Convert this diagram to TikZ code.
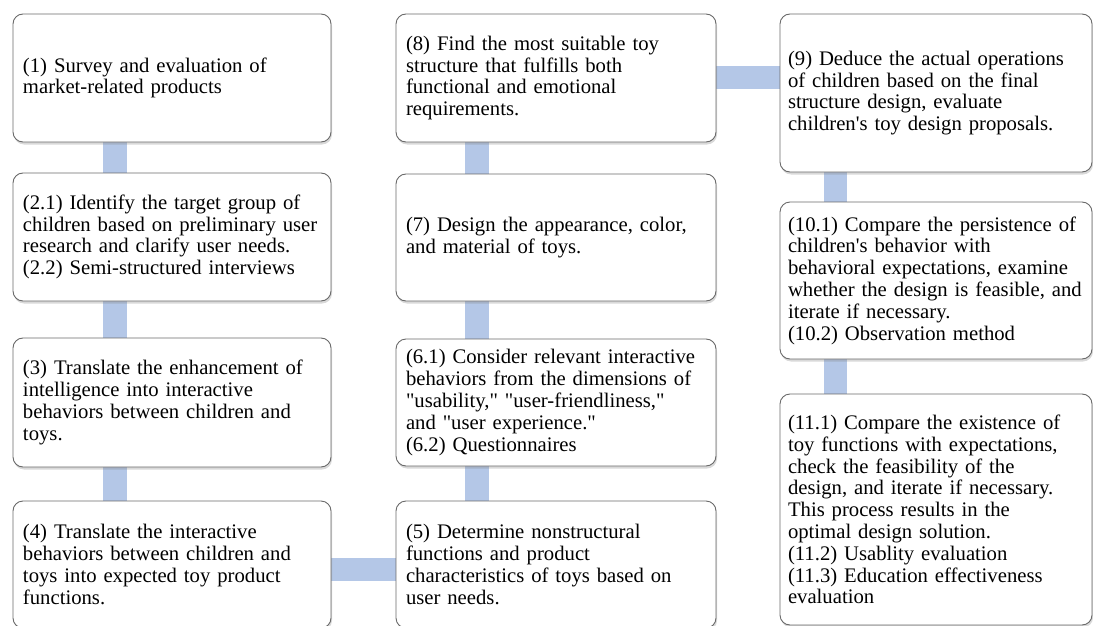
\documentclass[tikz,border=0pt]{standalone}
\usepackage{fontspec}
\setmainfont{Liberation Serif}[Ligatures=TeXOff]
\usetikzlibrary{backgrounds,shadows}

\definecolor{barblue}{RGB}{180,199,231}
\definecolor{edgegray}{RGB}{105,105,105}

\tikzset{
  stage/.style={draw=edgegray, line width=0.9pt, rounded corners=10pt, fill=white,
    align=left, inner xsep=10pt, inner ysep=0pt,
    font=\fontsize{20.7}{21.8}\selectfont,
    drop shadow={shadow xshift=1pt, shadow yshift=-2.5pt, opacity=0.3}},
  colA/.style={minimum width=318pt, text width=298pt},
  colB/.style={minimum width=320pt, text width=300pt},
  colC/.style={minimum width=312pt, text width=296pt, inner xsep=8pt},
  bar/.style={draw=barblue, line width=23.5pt}
}

\begin{document}
\begin{tikzpicture}[x=1pt, y=-1pt]
            \useasboundingbox (0,0) rectangle (1093,626);

            \node[stage, colA, minimum height=128pt] (survey) at (172,78)
                {(1) Survey and evaluation of\\market-related products};
            \node[stage, colA, minimum height=128pt] (target) at (172,237)
                {(2.1) Identify the target group of\\children based on preliminary user\\research and clarify user needs.\\(2.2) Semi-structured interviews};
            \node[stage, colA, minimum height=129pt] (intel) at (172,402.5)
                {(3) Translate the enhancement of\\intelligence into interactive\\behaviors between children and\\toys.};
            \node[stage, colA, minimum height=127pt] (funcs) at (172,564.5)
                {(4) Translate the interactive\\behaviors between children and\\toys into expected toy product\\functions.};

            \node[stage, colB, minimum height=127pt] (nonstruct) at (556,564.5)
                {(5) Determine nonstructural\\functions and product\\characteristics of toys based on\\user needs.};
            \node[stage, colB, minimum height=127pt] (behave) at (556,402.5)
                {(6.1) Consider relevant interactive\\behaviors from the dimensions of\\"usability," "user-friendliness,"\\and "user experience."\\(6.2) Questionnaires};
            \node[stage, colB, minimum height=127pt] (look) at (556,237.5)
                {(7) Design the appearance, color,\\and material of toys.};
            \node[stage, colB, minimum height=128pt] (struct) at (556,78)
                {(8) Find the most suitable toy\\structure that fulfills both\\functional and emotional\\requirements.};

            \node[stage, colC, minimum height=158pt] (deduce) at (936,93)
                {(9) Deduce the actual operations\\of children based on the final\\structure design, evaluate\\children's toy design proposals.};
            \node[stage, colC, minimum height=157pt] (persist) at (936,280.5)
                {(10.1) Compare the persistence of\\children's behavior with\\behavioral expectations, examine\\whether the design is feasible, and\\iterate if necessary.\\(10.2) Observation method};
            \node[stage, colC, minimum height=231pt] (exist) at (936,509.5)
                {(11.1) Compare the existence of\\toy functions with expectations,\\check the feasibility of the\\design, and iterate if necessary.\\This process results in the\\optimal design solution.\\(11.2) Usablity evaluation\\(11.3) Education effectiveness\\evaluation};

            \begin{scope}[on background layer]
                \draw[bar] ([xshift=102.5pt]survey.south west) -- ([xshift=102.5pt]target.north west);
                \draw[bar] ([xshift=102.5pt]target.south west) -- ([xshift=102.5pt]intel.north west);
                \draw[bar] ([xshift=102.5pt]intel.south west) -- ([xshift=102.5pt]funcs.north west);
                \draw[bar] ([yshift=-69pt]funcs.north east) -- ([yshift=-69pt]nonstruct.north west);
                \draw[bar] ([xshift=81.5pt]nonstruct.north west) -- ([xshift=81.5pt]behave.south west);
                \draw[bar] ([xshift=81.5pt]behave.north west) -- ([xshift=81.5pt]look.south west);
                \draw[bar] ([xshift=81.5pt]look.north west) -- ([xshift=81.5pt]struct.south west);
                \draw[bar] ([yshift=-64pt]struct.north east) -- ([yshift=-64pt]deduce.north west);
                \draw[bar] ([xshift=56pt]deduce.south west) -- ([xshift=56pt]persist.north west);
                \draw[bar] ([xshift=56pt]persist.south west) -- ([xshift=56pt]exist.north west);
            \end{scope}
        \end{tikzpicture}
\end{document}
